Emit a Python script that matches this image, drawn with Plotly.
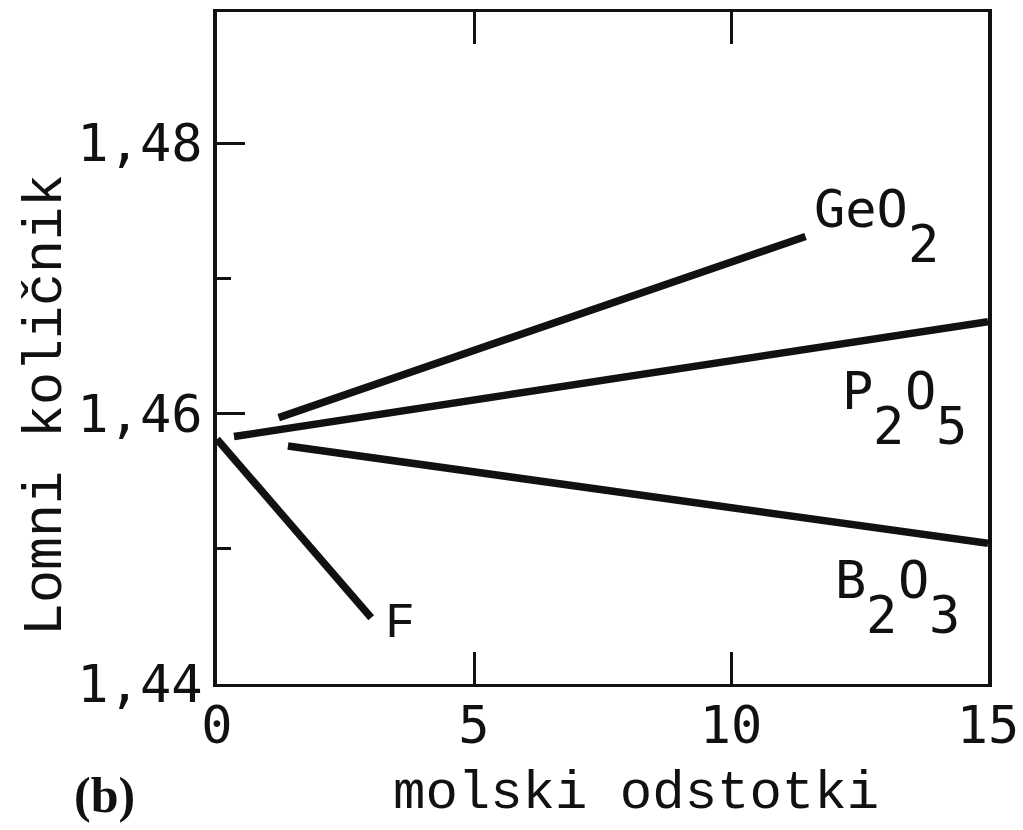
import plotly.graph_objects as go

# Refractive index of silica vs. dopant concentration (mol %)
geo2_x = [1.2, 11.45]
geo2_y = [1.4597, 1.4731]

p2o5_x = [0.33, 15.0]
p2o5_y = [1.4583, 1.4668]

b2o3_x = [1.38, 15.0]
b2o3_y = [1.4576, 1.4504]

f_x = [0.0, 3.0]
f_y = [1.4581, 1.4449]

x_tickvals = [0, 5, 10, 15]
x_ticktext = ["0", "5", "10", "15"]
y_tickvals = [1.44, 1.46, 1.48]
y_ticktext = ["1,44", "1,46", "1,48"]

W, H = 1023, 830
L, R, T, B = 217, 35, 12, 146

INK = "#111111"
MONO_SANS = "DejaVu Sans Mono"
MONO_SERIF = "Liberation Mono"

fig = go.Figure()
for xs, ys in [(geo2_x, geo2_y), (p2o5_x, p2o5_y), (b2o3_x, b2o3_y), (f_x, f_y)]:
    fig.add_trace(go.Scatter(x=xs, y=ys, mode="lines",
                             line=dict(color=INK, width=7.5),
                             showlegend=False, hoverinfo="skip"))


def px_to_paper(px, py):
    return (px - L) / (W - L - R), (H - B - py) / (H - T - B)


annotations = []


def text_at(px, py, text, size, family, anchor="left", angle=0, bold=False):
    x, y = px_to_paper(px, py)
    if bold:
        text = "<b>" + text + "</b>"
    annotations.append(dict(x=x, y=y, xref="paper", yref="paper", text=text,
                            showarrow=False, xanchor=anchor, yanchor="middle",
                            textangle=angle,
                            font=dict(family=family, size=size, color=INK)))


def formula(px, py, parts, size=52, drop=35):
    """Typewriter-style formula: each part is (text, is_subscript)."""
    step = size * 0.602
    x = px
    for txt, sub in parts:
        text_at(x, py + (drop if sub else 0), txt, size, MONO_SANS)
        x += step * len(txt)


formula(812, 209, [("GeO", False), ("2", True)])
formula(840, 391, [("P", False), ("2", True), ("O", False), ("5", True)])
formula(833, 580, [("B", False), ("2", True), ("O", False), ("3", True)])
text_at(383, 623, "F", 50, MONO_SERIF)

# axis titles and panel tag
text_at(636, 793, "molski odstotki", 54, MONO_SERIF, anchor="center")
text_at(46, 405, "Lomni količnik", 55, MONO_SERIF, anchor="center", angle=-90)
text_at(105, 795, "(b)", 50, "Liberation Serif", anchor="center", bold=True)

fig.update_layout(
    width=W, height=H,
    margin=dict(l=L, r=R, t=T, b=B, autoexpand=False),
    paper_bgcolor="white", plot_bgcolor="white",
    annotations=annotations,
    xaxis=dict(range=[0, 15], tickvals=x_tickvals, ticktext=x_ticktext,
               ticks="inside", ticklen=32, tickwidth=3, tickcolor=INK,
               showline=True, linecolor=INK, linewidth=3, mirror="ticks",
               showgrid=False, zeroline=False, automargin=False,
               ticklabelstandoff=-6,
               tickfont=dict(family=MONO_SANS, size=52, color=INK)),
    yaxis=dict(range=[1.44, 1.4897], tickvals=y_tickvals, ticktext=y_ticktext,
               ticks="inside", ticklen=28, tickwidth=3, tickcolor=INK,
               minor=dict(tickvals=[1.45, 1.47], ticks="inside", ticklen=14,
                          tickwidth=3, tickcolor=INK, showgrid=False),
               showline=True, linecolor=INK, linewidth=4, mirror=True,
               showgrid=False, zeroline=False, automargin=False,
               tickfont=dict(family=MONO_SANS, size=52, color=INK)),
)

fig.write_html("out.html")
